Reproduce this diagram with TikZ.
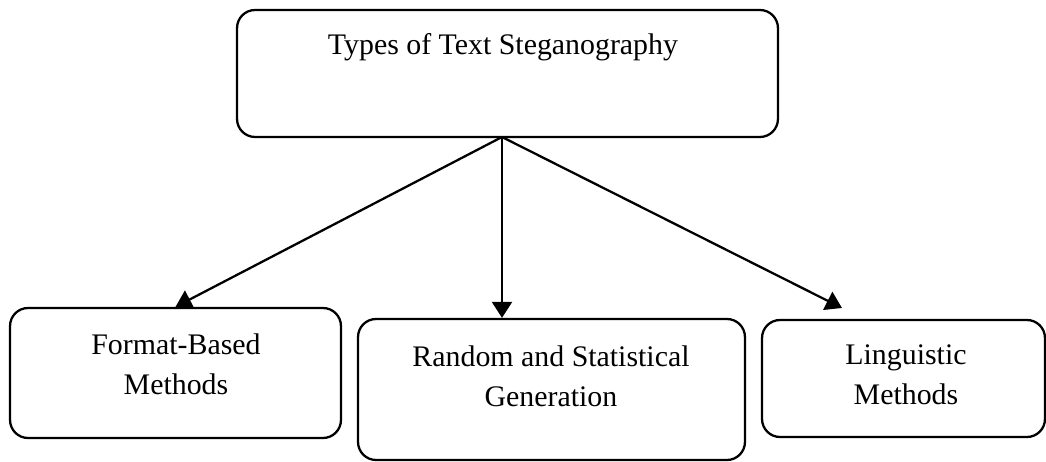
\documentclass[tikz,border=0pt]{standalone}
\usepackage{fontspec}
\setmainfont{Liberation Serif}
\usepackage{tikz}
\usetikzlibrary{arrows.meta,positioning}

\tikzset{
  typebox/.style={draw, line width=1.3pt, rounded corners=0.36cm, inner sep=0pt},
  typetext/.style={align=center, font=\fontsize{17}{23}\selectfont},
  typearrow/.style={line width=1.3pt, -{Triangle[length=0.32cm, width=0.4cm]}}
}

\begin{document}
\begin{tikzpicture}[x=0.02cm, y=-0.02cm]
    \useasboundingbox (0,0) rectangle (1046,462);

    % boxes
    \node[typebox, minimum width=10.82cm, minimum height=2.54cm] (top) at (507.5,73.5) {};
    \node[typebox, minimum width=6.62cm, minimum height=2.6cm] (format) at (175.5,373) {};
    \node[typebox, minimum width=7.74cm, minimum height=2.82cm] (random) at (551.5,389.5) {};
    \node[typebox, minimum width=5.66cm, minimum height=2.34cm] (ling) at (903.5,378.5) {};

    % texts
    \node[typetext] (toptext) at (503,47) {Types of Text Steganography};
    \node[typetext] (formattext) at (176,364) {Format-Based\\Methods};
    \node[typetext] (randomtext) at (551,376) {Random and Statistical\\Generation};
    \node[typetext] (lingtext) at (906,375) {Linguistic\\Methods};

    % arrows
    \coordinate (split) at (502,137);
    \coordinate (lingtip) at (842,308);
    \draw[typearrow] (split) -- (format.north);
    \draw[typearrow] (split) -- (split |- random.north);
    \draw[typearrow] (split) -- (lingtip);
\end{tikzpicture}
\end{document}
